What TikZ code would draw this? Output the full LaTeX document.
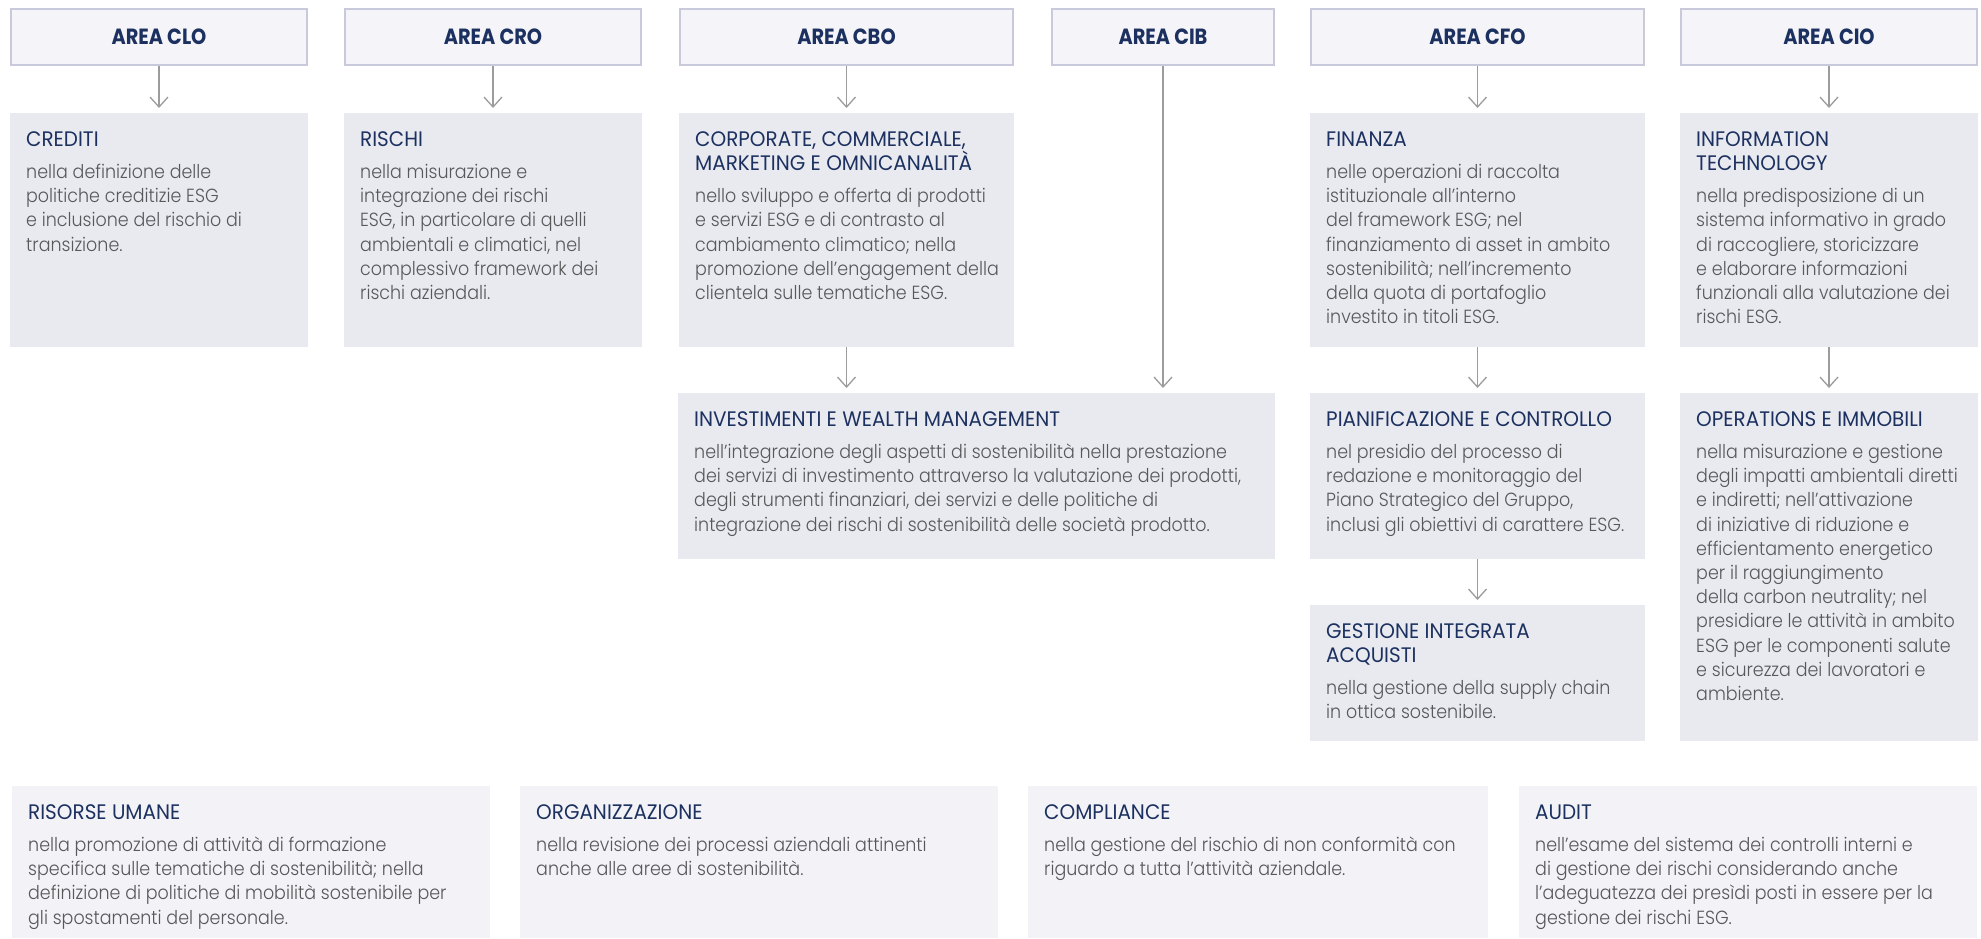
\documentclass[tikz,border=0pt]{standalone}
\usepackage{fontspec}
\setmainfont{Poppins}[UprightFont=* Light, FakeStretch=0.92]
\newfontfamily\ttlfont{Poppins}[FakeStretch=0.95]
\newfontfamily\hdfont{Poppins}[UprightFont=* Bold, FakeStretch=0.88]
\usepackage{tikz}
\usetikzlibrary{arrows.meta}

\definecolor{navy}{HTML}{1C3160}
\definecolor{bodygray}{HTML}{58585A}
\definecolor{areafill}{HTML}{F5F5F9}
\definecolor{areaborder}{HTML}{C8CADB}
\definecolor{unitfill}{HTML}{E9EAF0}
\definecolor{stafffill}{HTML}{F2F2F7}
\definecolor{arrowgray}{HTML}{9C9C9C}

\tikzset{
  area/.style={draw=areaborder, line width=2pt, fill=areafill, anchor=north west,
    minimum height=56pt, inner sep=0pt, text=navy, font=\hdfont\fontsize{22}{24}\selectfont},
  unit/.style={fill=unitfill, anchor=north west, inner sep=0pt, outer sep=0pt},
  staff/.style={fill=stafffill, anchor=north west, inner sep=0pt, outer sep=0pt},
  desc/.style={anchor=north west, inner sep=0pt, align=left, text=bodygray,
    font=\fontsize{19}{24.2}\selectfont},
  conn/.style={draw=arrowgray, line width=1.3pt, -{Straight Barb[length=10pt,width=18pt]}, shorten >=5pt}
}
\newcommand{\ttl}[1]{\rule{0pt}{18pt}{\ttlfont\fontsize{21}{24}\selectfont\color{navy}#1}}

\begin{document}
\begin{tikzpicture}[x=1pt, y=-1pt]
\useasboundingbox[fill=white] (0,0) rectangle (1981,939);

% aree
\node[area, minimum width=296pt] (clo) at (10,8)   {AREA CLO};
\node[area, minimum width=296pt] (cro) at (344,8)  {AREA CRO};
\node[area, minimum width=333pt] (cbo) at (679,8)  {AREA CBO};
\node[area, minimum width=222pt] (cib) at (1051,8) {AREA CIB};
\node[area, minimum width=333pt] (cfo) at (1310,8) {AREA CFO};
\node[area, minimum width=296pt] (cio) at (1680,8) {AREA CIO};

% strutture
\node[unit, minimum width=298pt, minimum height=234pt] (crediti) at (10,113)  {};
\node[unit, minimum width=298pt, minimum height=234pt] (rischi)  at (344,113) {};
\node[unit, minimum width=335pt, minimum height=234pt] (corp)    at (679,113) {};
\node[unit, minimum width=335pt, minimum height=234pt] (finanza) at (1310,113) {};
\node[unit, minimum width=298pt, minimum height=234pt] (infotec) at (1680,113) {};
\node[unit, minimum width=597pt, minimum height=166pt] (invest)  at (678,393) {};
\node[unit, minimum width=335pt, minimum height=166pt] (pianif)  at (1310,393) {};
\node[unit, minimum width=298pt, minimum height=348pt] (operat)  at (1680,393) {};
\node[unit, minimum width=335pt, minimum height=136pt] (acquisti) at (1310,605) {};

\node[staff, minimum width=478pt, minimum height=152pt] (risorse) at (12,786)   {};
\node[staff, minimum width=478pt, minimum height=152pt] (organiz) at (520,786)  {};
\node[staff, minimum width=460pt, minimum height=152pt] (complia) at (1028,786) {};
\node[staff, minimum width=458pt, minimum height=152pt] (audit)   at (1519,786) {};

% testi
\node[desc] at ([shift={(16,15)}]crediti.north west) {\ttl{CREDITI}\\[8pt]
  nella definizione delle\\ politiche creditizie ESG\\ e inclusione del rischio di\\ transizione.};
\node[desc] at ([shift={(16,15)}]rischi.north west) {\ttl{RISCHI}\\[8pt]
  nella misurazione e\\ integrazione dei rischi\\ ESG, in particolare di quelli\\
  ambientali e climatici, nel\\ complessivo framework dei\\ rischi aziendali.};
\node[desc] at ([shift={(16,15)}]corp.north west) {\ttl{CORPORATE, COMMERCIALE,}\\ \ttl{MARKETING E OMNICANALITÀ}\\[8pt]
  nello sviluppo e offerta di prodotti\\ e servizi ESG e di contrasto al\\ cambiamento climatico; nella\\
  promozione dell’engagement della\\ clientela sulle tematiche ESG.};
\node[desc] at ([shift={(16,15)}]finanza.north west) {\ttl{FINANZA}\\[8pt]
  nelle operazioni di raccolta\\ istituzionale all’interno\\ del framework ESG; nel\\
  finanziamento di asset in ambito\\ sostenibilità; nell’incremento\\ della quota di portafoglio\\
  investito in titoli ESG.};
\node[desc] at ([shift={(16,15)}]infotec.north west) {\ttl{INFORMATION}\\ \ttl{TECHNOLOGY}\\[8pt]
  nella predisposizione di un\\ sistema informativo in grado\\ di raccogliere, storicizzare\\
  e elaborare informazioni\\ funzionali alla valutazione dei\\ rischi ESG.};
\node[desc] at ([shift={(16,15)}]invest.north west) {\ttl{INVESTIMENTI E WEALTH MANAGEMENT}\\[8pt]
  nell’integrazione degli aspetti di sostenibilità nella prestazione\\
  dei servizi di investimento attraverso la valutazione dei prodotti,\\
  degli strumenti finanziari, dei servizi e delle politiche di\\
  integrazione dei rischi di sostenibilità delle società prodotto.};
\node[desc] at ([shift={(16,15)}]pianif.north west) {\ttl{PIANIFICAZIONE E CONTROLLO}\\[8pt]
  nel presidio del processo di\\ redazione e monitoraggio del\\ Piano Strategico del Gruppo,\\
  inclusi gli obiettivi di carattere ESG.};
\node[desc] at ([shift={(16,15)}]operat.north west) {\ttl{OPERATIONS E IMMOBILI}\\[8pt]
  nella misurazione e gestione\\ degli impatti ambientali diretti\\ e indiretti; nell’attivazione\\
  di iniziative di riduzione e\\ efficientamento energetico\\ per il raggiungimento\\
  della carbon neutrality; nel\\ presidiare le attività in ambito\\ ESG per le componenti salute\\
  e sicurezza dei lavoratori e\\ ambiente.};
\node[desc] at ([shift={(16,15)}]acquisti.north west) {\ttl{GESTIONE INTEGRATA}\\ \ttl{ACQUISTI}\\[8pt]
  nella gestione della supply chain\\ in ottica sostenibile.};

\node[desc] at ([shift={(16,15)}]risorse.north west) {\ttl{RISORSE UMANE}\\[8pt]
  nella promozione di attività di formazione\\ specifica sulle tematiche di sostenibilità; nella\\
  definizione di politiche di mobilità sostenibile per\\ gli spostamenti del personale.};
\node[desc] at ([shift={(16,15)}]organiz.north west) {\ttl{ORGANIZZAZIONE}\\[8pt]
  nella revisione dei processi aziendali attinenti\\ anche alle aree di sostenibilità.};
\node[desc] at ([shift={(16,15)}]complia.north west) {\ttl{COMPLIANCE}\\[8pt]
  nella gestione del rischio di non conformità con\\ riguardo a tutta l’attività aziendale.};
\node[desc] at ([shift={(16,15)}]audit.north west) {\ttl{AUDIT}\\[8pt]
  nell’esame del sistema dei controlli interni e\\ di gestione dei rischi considerando anche\\
  l’adeguatezza dei presìdi posti in essere per la\\ gestione dei rischi ESG.};

% frecce
\draw[conn] (clo) -- (crediti);
\draw[conn] (cro) -- (rischi);
\draw[conn] (cbo) -- (corp);
\draw[conn] (cfo) -- (finanza);
\draw[conn] (cio) -- (infotec);
\draw[conn] (corp.south) -- (corp.south |- invest.north);
\draw[conn] (cib.south) -- (cib.south |- invest.north);
\draw[conn] (finanza) -- (pianif);
\draw[conn] (infotec) -- (operat);
\draw[conn] (pianif) -- (acquisti);
\end{tikzpicture}
\end{document}
